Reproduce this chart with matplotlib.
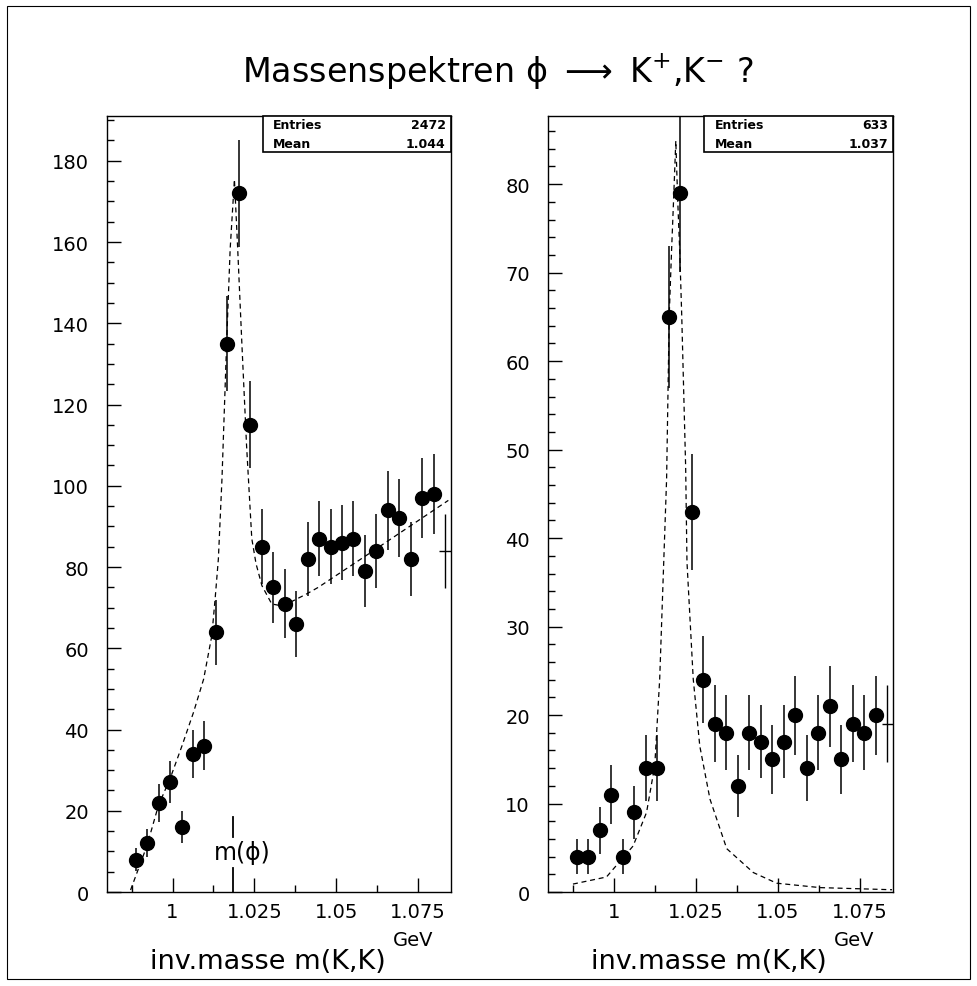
import numpy as np
import matplotlib.pyplot as plt
from matplotlib.patches import Rectangle
from matplotlib.ticker import MultipleLocator, FuncFormatter

plt.rcParams['mathtext.fontset'] = 'dejavusans'

# histogram binning: 30 bins between 0.98 and 1.085 GeV
bin_lo, bin_hi, n_bins = 0.98, 1.085, 30
edges = np.linspace(bin_lo, bin_hi, n_bins + 1)
centers = (edges[:-1] + edges[1:]) / 2
half_w = (edges[1] - edges[0]) / 2

# bin contents
counts_left = [0, 0, 8, 12, 22, 27, 16, 34, 36, 64, 135, 172, 115, 85, 75,
               71, 66, 82, 87, 85, 86, 87, 79, 84, 94, 92, 82, 97, 98, 84]
counts_right = [0, 0, 4, 4, 7, 11, 4, 9, 14, 14, 65, 79, 43, 24, 19,
                18, 12, 18, 17, 15, 17, 20, 14, 18, 21, 15, 19, 18, 20, 19]

# dashed fit curves
fit_x_left = [0.9872, 0.9922, 0.9957, 0.9993, 1.0029, 1.0064, 1.0095, 1.0120,
              1.0130, 1.0140, 1.0151, 1.0166, 1.0176, 1.0189, 1.0199, 1.0212,
              1.0226, 1.0242, 1.0255, 1.0273, 1.0303, 1.0330, 1.0359, 1.0410,
              1.0445, 1.0600, 1.0842]
fit_y_left = [0.5, 11.4, 21.3, 28.0, 36.0, 44.2, 52.4, 63.1,
              72.1, 82.0, 101.7, 137.0, 158.3, 175.4, 158.3, 134.5,
              110.0, 87.0, 80.8, 75.4, 70.9, 70.5, 71.3, 73.4,
              75.0, 83.3, 96.4]
fit_x_right = [0.9876, 0.9978, 1.0059, 1.0100, 1.0125, 1.0140, 1.0161, 1.0169,
               1.0176, 1.0182, 1.0189, 1.0195, 1.0201, 1.0207, 1.0219, 1.0223,
               1.0242, 1.0262, 1.0293, 1.0344, 1.0425, 1.0496, 1.0628, 1.0847]
fit_y_right = [0.9, 1.7, 5.2, 9.0, 14.3, 24.1, 46.7, 65.2,
               72.4, 78.0, 84.9, 78.0, 72.4, 65.2, 48.0, 37.3,
               24.1, 16.5, 10.5, 4.9, 2.2, 1.0, 0.5, 0.26]

entries = [2472, 633]
means = ["1.044", "1.037"]
m_phi = 1.0185

title = "Massenspektren ϕ $\\longrightarrow$ K$^{+}$,K$^{-}$ ?"
xlabel = "inv.masse m(K,K)"
xunit = "GeV"


def panel(ax, counts, fx, fy, ymax, ymaj, ymin, n_entries, mean):
    c = np.array(counts, dtype=float)
    keep = c > 0
    x, y = centers[keep], c[keep]
    err = np.sqrt(y)
    ax.errorbar(x[:-1], y[:-1], yerr=err[:-1], xerr=half_w, fmt='o', ms=10,
                color='black', ecolor='black', elinewidth=1.1, capsize=0)
    # last bin sits on the frame: drawn without marker
    ax.errorbar(x[-1:], y[-1:], yerr=err[-1:], xerr=half_w, fmt='none',
                ecolor='black', elinewidth=1.0, capsize=0)
    ax.plot(fx, fy, color='black', lw=0.9, ls=(0, (4, 3)))

    ax.set_xlim(bin_lo, bin_hi)
    ax.set_ylim(0, ymax)
    ax.xaxis.set_major_locator(MultipleLocator(0.025))
    ax.xaxis.set_minor_locator(MultipleLocator(0.0125))
    ax.xaxis.set_major_formatter(FuncFormatter(lambda v, p: "%g" % round(v, 4)))
    ax.yaxis.set_major_locator(MultipleLocator(ymaj))
    ax.yaxis.set_minor_locator(MultipleLocator(ymin))
    ax.tick_params(which='major', direction='in', length=10, width=1,
                   labelsize=14)
    ax.tick_params(which='minor', direction='in', length=5, width=1)
    ax.tick_params(axis='x', pad=7)
    ax.tick_params(axis='y', pad=13)
    for s in ax.spines.values():
        s.set_linewidth(1.0)

    # statistics box
    ax.add_patch(Rectangle((0.453, 0.954), 0.547, 0.046, transform=ax.transAxes,
                           facecolor='white', edgecolor='black', lw=1.2,
                           clip_on=False, zorder=5))
    ax.text(0.483, 0.9885, "Entries", transform=ax.transAxes, fontsize=9,
            fontweight='bold', va='center', zorder=6)
    ax.text(0.985, 0.9885, str(n_entries), transform=ax.transAxes, fontsize=9,
            fontweight='bold', va='center', ha='right', zorder=6)
    ax.text(0.483, 0.9645, "Mean", transform=ax.transAxes, fontsize=9,
            fontweight='bold', va='center', zorder=6)
    ax.text(0.985, 0.9645, mean, transform=ax.transAxes, fontsize=9,
            fontweight='bold', va='center', ha='right', zorder=6)

    ax.text(0.125, -0.089, xlabel, transform=ax.transAxes, fontsize=19.5,
            va='center', ha='left')
    ax.text(0.83, -0.061, xunit, transform=ax.transAxes, fontsize=14,
            va='center', ha='left')


fig = plt.figure(figsize=(9.78, 9.87), dpi=100)
ax1 = fig.add_axes([0.1094, 0.0952, 0.3517, 0.7862])
ax2 = fig.add_axes([0.5603, 0.0952, 0.3528, 0.7862])

panel(ax1, counts_left, fit_x_left, fit_y_left, 191.0, 20, 5, entries[0], means[0])
panel(ax2, counts_right, fit_x_right, fit_y_right, 87.7, 10, 2, entries[1], means[1])

# m(phi) marker
ax1.plot([m_phi, m_phi], [13.5, 18.5], color='black', lw=1.3)
ax1.plot([m_phi, m_phi], [0, 6.0], color='black', lw=1.3)
ax1.text(1.0125, 9.9, "m(ϕ)", fontsize=17, va='center', ha='left')

fig.text(0.509, 1 - 72 / 987, title, fontsize=24, ha='center', va='center')

# outer frame
fig.patches.append(Rectangle((7 / 978, 7 / 987), 963 / 978, 973 / 987,
                             transform=fig.transFigure, fill=False,
                             edgecolor='black', lw=0.8))

fig.savefig("out.png", dpi=100)
